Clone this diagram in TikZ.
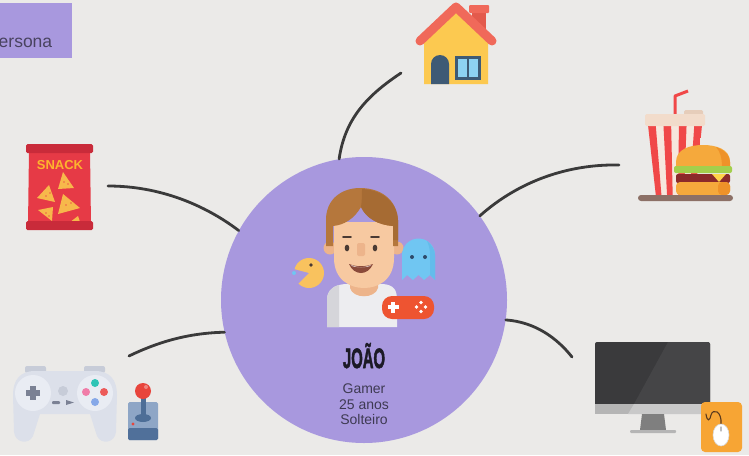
\documentclass[tikz,border=0pt]{standalone}
\usepackage{fontspec}
\setmainfont{Liberation Sans}
\usetikzlibrary{calc}

\definecolor{bg}{HTML}{EBEAE8}
\definecolor{lilac}{HTML}{A898DE}
\definecolor{wire}{HTML}{3A3A3A}
\definecolor{ink}{HTML}{3E3A52}
\definecolor{inkdark}{HTML}{1C1A26}
% house
\definecolor{roof}{HTML}{F0695A}
\definecolor{roofdark}{HTML}{E35A4C}
\definecolor{wall}{HTML}{FCC950}
\definecolor{slate}{HTML}{3E5A75}
\definecolor{glass}{HTML}{8ED2F2}
% snack
\definecolor{bag}{HTML}{E63A46}
\definecolor{bagdark}{HTML}{C92B3A}
\definecolor{chip}{HTML}{F7B84B}
\definecolor{snacktxt}{HTML}{FDB42D}
% food
\definecolor{cupred}{HTML}{F04848}
\definecolor{cupwhite}{HTML}{F6E7DD}
\definecolor{lid}{HTML}{F2DCCB}
\definecolor{liddark}{HTML}{E6CDBA}
\definecolor{bun}{HTML}{F5A93C}
\definecolor{bundark}{HTML}{EE9229}
\definecolor{lettuce}{HTML}{A3CF4C}
\definecolor{patty}{HTML}{8B2A2A}
\definecolor{cheese}{HTML}{FFD24A}
\definecolor{tray}{HTML}{8C7066}
% controller
\definecolor{pad}{HTML}{DCE0EA}
\definecolor{padlight}{HTML}{E9ECF3}
\definecolor{padtop}{HTML}{C7CCD8}
\definecolor{padkey}{HTML}{7B8194}
\definecolor{btnteal}{HTML}{2EC4B6}
\definecolor{btnpink}{HTML}{F07CA8}
\definecolor{btnred}{HTML}{EC5A5A}
\definecolor{btnblue}{HTML}{86A8E8}
\definecolor{joybox}{HTML}{8EA6C6}
\definecolor{joyboxdark}{HTML}{50709A}
\definecolor{joystick}{HTML}{4D6E97}
\definecolor{joyball}{HTML}{E8453C}
% monitor
\definecolor{screen}{HTML}{3A3A3C}
\definecolor{screenlight}{HTML}{454547}
\definecolor{chin}{HTML}{B5B5B5}
\definecolor{chinlight}{HTML}{C9C9C9}
\definecolor{stand}{HTML}{7F7F7F}
\definecolor{mousepad}{HTML}{F7A534}
\definecolor{cable}{HTML}{5B3A1E}
\definecolor{mouseedge}{HTML}{D8D8D8}
\definecolor{wheel}{HTML}{BDBDBD}
% person
\definecolor{hair}{HTML}{B5773C}
\definecolor{hairdark}{HTML}{A66B33}
\definecolor{skin}{HTML}{F7C9A1}
\definecolor{skindark}{HTML}{EDB48B}
\definecolor{shirt}{HTML}{EDEDF0}
\definecolor{shirtshade}{HTML}{D5D5DA}
\definecolor{eye}{HTML}{4A3A33}
\definecolor{lips}{HTML}{8A4A3A}
\definecolor{pac}{HTML}{F9C25E}
\definecolor{ghost}{HTML}{70C6F2}
\definecolor{ghostdark}{HTML}{63BCEB}
\definecolor{ghosteye}{HTML}{2E4A6A}
\definecolor{gamepad}{HTML}{EE5431}

\tikzset{
  link/.style={draw=wire, line width=2.8pt, line cap=round},
  label/.style={inner sep=0pt, anchor=base, text=ink, font=\fontsize{14}{16}\selectfont},
}

\begin{document}
\begin{tikzpicture}[x=1pt, y=-1pt]
\useasboundingbox (0,0) rectangle (749,455);
\fill[bg] (0,0) rectangle (749,455);

% tab in the corner
\fill[lilac] (-1,3) rectangle (72,58);
\node[inner sep=0pt, anchor=base west, text=ink!90!lilac, font=\fontsize{17.5}{20}\selectfont] (tab) at (-1.5,47.5) {ersona};

% central disc
\node[circle, minimum size=286pt, inner sep=0pt, fill=lilac] (hub) at (364,300) {};

% free ends of the connectors
\coordinate (house) at (401,73);
\coordinate (snack) at (108,186);
\coordinate (food) at (619,165);
\coordinate (game) at (129,356);
\coordinate (pc) at (572,357);

\draw[link] (hub.100) .. controls (345,118) and (368,95) .. (house);
\draw[link] (hub.151.8) .. controls (205,205) and (160,186) .. (snack);
\draw[link] (hub.36.2) .. controls (520,180) and (570,164) .. (food);
\draw[link] (hub.193.6) .. controls (190,333) and (160,341) .. (game);
\draw[link] (hub.352.8) .. controls (535,322) and (557,338) .. (pc);

% ---------- house ----------
\fill[roofdark] (472,10) rectangle (486,32);
\fill[roof, rounded corners=1pt] (469,5) rectangle (489,13);
\fill[wall] (424,42) -- (456,12) -- (488,42) -- (488,84) -- (424,84) -- cycle;
\draw[roof, line width=9pt, line cap=round, line join=round] (420,41) -- (456,7) -- (492,41);
\fill[slate] (431,84) -- (431,64) arc[start angle=180, end angle=360, radius=9] -- (449,84) -- cycle;
\fill[slate] (455,56) rectangle (481,80);
\fill[glass] (458,59) rectangle (467,77);
\fill[glass] (469,59) rectangle (478,77);

% ---------- snack bag ----------
\fill[bag] (29,150) -- (90,150) -- (91,225) -- (28,225) -- cycle;
\fill[bagdark, rounded corners=1.5pt] (26,144) rectangle (93,153);
\fill[chip] (63,172) -- (58,189) -- (74,188) -- cycle;
\fill[chip] (49,185) -- (37,198) -- (55,202) -- cycle;
\fill[chip] (63,194) -- (58,214) -- (80,208) -- cycle;
\fill[chip] (38,210) -- (53,207) -- (52,221) -- cycle;
\fill[chip] (65,226) -- (78,216) -- (82,228) -- cycle;
\foreach \p in {(64,182),(68,184),(46,196),(50,193),(66,205),(71,203),(46,213),(49,216),(75,222)}
  \fill[bag!70!chip] \p circle[radius=0.9];
\fill[bagdark, rounded corners=1.5pt] (26,221) rectangle (93,230);
\node[inner sep=0pt, text=snacktxt, font=\bfseries\fontsize{13}{15}\selectfont] (snacktxt) at (60,165) {SNACK};

% ---------- drink and burger ----------
\draw[cupred, line width=3pt, line join=round] (675,118) -- (675,96) -- (688,91);
\begin{scope}
  \clip (648,125) -- (702,125) -- (695,197) -- (656,197) -- cycle;
  \fill[cupwhite] (640,120) rectangle (710,200);
  \foreach \i in {0,2,4,6}
    \fill[cupred] ({648+\i*54/7},125) -- ({648+(\i+1)*54/7},125) -- ({656+(\i+1)*39/7},197) -- ({656+\i*39/7},197) -- cycle;
\end{scope}
\fill[liddark, rounded corners=1.5pt] (684,110) rectangle (703,117);
\fill[lid, rounded corners=1.5pt] (645,114) rectangle (705,126);
\fill[bun] (676,167) -- (676,162) .. controls (676,149) and (690,145) .. (703,145) .. controls (716,145) and (730,149) .. (730,162) -- (730,167) -- cycle;
\fill[bundark] (716,147) .. controls (726,151) and (730,156) .. (730,162) -- (730,167) -- (722,167) .. controls (722,158) and (720,151) .. (716,147) -- cycle;
\fill[lettuce, rounded corners=2pt] (674,166) rectangle (732,173);
\fill[patty, rounded corners=2pt] (676,174) rectangle (730,183);
\fill[cheese] (712,174) -- (726,174) -- (719,182) -- cycle;
\fill[bun, rounded corners=4pt] (676,182) rectangle (730,195);
\fill[bundark, rounded corners=4pt] (718,182) rectangle (730,195);
\fill[tray, rounded corners=3pt] (638,195) rectangle (733,201);

% ---------- controller and joystick ----------
\fill[padtop, rounded corners=2pt] (25,366) rectangle (46,373);
\fill[padtop, rounded corners=2pt] (84,366) rectangle (105,373);
\fill[pad] (13,395) .. controls (13,380) and (20,371) .. (35,371) -- (95,371) .. controls (110,371) and (117,380) .. (117,395)
  -- (116,432) .. controls (115,443) and (101,445) .. (97,436) -- (90,414) -- (40,414) -- (33,436)
  .. controls (29,445) and (15,443) .. (14,432) -- cycle;
\fill[padlight] (33,393) circle[radius=18];
\fill[padlight] (95,393) circle[radius=18];
\fill[padkey] (30,386) rectangle (36,400);
\fill[padkey] (26,390) rectangle (40,396);
\fill[padtop] (63,391) circle[radius=5];
\fill[padkey, rounded corners=1pt] (52,401) rectangle (60,404);
\fill[padkey] (66,400) -- (74,402.5) -- (66,405) -- cycle;
\fill[btnteal] (95,383) circle[radius=4];
\fill[btnpink] (86,392) circle[radius=4];
\fill[btnred] (104,392) circle[radius=4];
\fill[btnblue] (95,402) circle[radius=4];

\fill[joybox, rounded corners=1.5pt] (128,402) rectangle (158,440);
\fill[joyboxdark, rounded corners=1.5pt] (128,428) rectangle (158,440);
\fill[joyball] (133,424) circle[radius=1.6];
\fill[joystick] (143,418) ellipse[x radius=8, y radius=4];
\fill[joystick] (140.5,392) rectangle (145.5,418);
\fill[joyball] (143,391) circle[radius=8];
\fill[white, opacity=0.35] (146,387) circle[radius=2];

% ---------- monitor and mouse ----------
\fill[screen, rounded corners=2pt] (595,342) rectangle (710,406);
\fill[screenlight] (668,342) -- (708,342) -- (710,344) -- (710,404) -- (634,404) -- cycle;
\fill[chin] (595,404) rectangle (710,414);
\fill[chinlight] (634,404) -- (710,404) -- (710,414) -- (628,414) -- cycle;
\fill[stand] (642,414) -- (664,414) -- (666,430) -- (640,430) -- cycle;
\fill[chin, rounded corners=1pt] (630,430) rectangle (676,433);
\fill[mousepad, rounded corners=4pt] (701,402) rectangle (742,452);
\draw[cable, line width=1.1pt, line cap=round] (721,424) .. controls (722,411) and (713,408) .. (711,415) .. controls (710,421) and (707,422) .. (706,414);
\fill[white, draw=mouseedge, line width=0.6pt] (721,435) ellipse[x radius=8, y radius=11];
\draw[wheel, line width=1.2pt, line cap=round] (721,427) -- (721,431);

% ---------- person ----------
\fill[shirt] (327,327) -- (327,300) .. controls (327,290) and (334,285) .. (345,284) -- (383,284) .. controls (394,285) and (397,290) .. (397,300) -- (397,327) -- cycle;
\fill[shirtshade] (327,327) -- (327,300) .. controls (327,292) and (331,287) .. (339,285) -- (339,327) -- cycle;
\fill[skindark] (350,276) -- (350,288) .. controls (353,299) and (375,299) .. (378,288) -- (378,276) -- cycle;
\fill[skindark] (330,248) circle[radius=6.5];
\fill[skindark] (397,248) circle[radius=6.5];
\fill[skin] (334,222) -- (334,258) .. controls (334,280) and (350,288) .. (364,288) .. controls (378,288) and (394,280) .. (394,258) -- (394,222) -- cycle;
% hair
\fill[hair] (326,246) -- (326,222) .. controls (325,199) and (342,188) .. (360,188) .. controls (384,188) and (399,203) .. (398,224) -- (398,246) -- (393,246) -- (393,226)
  .. controls (378,225) and (366,218) .. (361,207) .. controls (354,219) and (344,225) .. (333,226) -- (333,246) -- cycle;
\fill[hairdark] (362,189) .. controls (384,190) and (399,204) .. (398,224) -- (398,240) -- (393,240) -- (393,226) .. controls (378,225) and (366,218) .. (361,207) .. controls (362,200) and (362,195) .. (362,189) -- cycle;
% face details
\draw[eye, line width=1.6pt, line cap=round] (343,237) -- (351,237);
\draw[eye, line width=1.6pt, line cap=round] (371,237) -- (379,237);
\fill[eye] (347,248) ellipse[x radius=2.3, y radius=3.4];
\fill[eye] (375,248) ellipse[x radius=2.3, y radius=3.4];
\fill[skindark, rounded corners=2pt] (357,243) rectangle (365,256);
\fill[lips] (349,264) .. controls (354,276) and (368,276) .. (373,264) .. controls (365,267) and (357,267) .. (349,264) -- cycle;
\fill[white] (351,265) .. controls (357,268) and (365,268) .. (371,265) .. controls (370,268) and (352,268) .. (351,265) -- cycle;

% pac-man with its dot
\fill[pac] (309,273) -- ++(195:15) arc[start angle=195, end angle=495, radius=15] -- cycle;
\fill[eye] (311,265) circle[radius=1.8];
\fill[ghost] (294,273) circle[radius=2];

% ghost
\fill[ghost] (402,280) -- (402,255) arc[start angle=180, end angle=360, radius=16.5] -- (435,280) -- (430,275) -- (424,280) -- (418.5,275) -- (413,280) -- (407,275) -- cycle;
\fill[ghostdark] (427,241) .. controls (432,245) and (435,250) .. (435,255) -- (435,280) -- (430,275) -- (430,255) .. controls (430,250) and (429,245) .. (427,241) -- cycle;
\fill[ghosteye] (412,257) circle[radius=2];
\fill[ghosteye] (425,257) circle[radius=2];

% gamepad
\fill[gamepad, rounded corners=10pt] (382,296) rectangle (434,319);
\fill[white] (391.3,301.5) rectangle (394.7,312.5);
\fill[white] (387.5,305.3) rectangle (398.5,308.7);
\foreach \d in {(421,302.5),(421,311.5),(416.5,307),(425.5,307)}
  \fill[white] \d circle[radius=1.9];

% name and details
\node[inner sep=0pt, anchor=base, text=inkdark] (name) at (364,368)
  {\scalebox{0.53}[1]{\bfseries\addfontfeature{FakeBold=2.5}\fontsize{28}{30}\selectfont JOÃO}};
\node[label] (role) at (364,393) {Gamer};
\node[label] (age) at (364,409) {25 anos};
\node[label] (status) at (364,424) {Solteiro};
\end{tikzpicture}
\end{document}
